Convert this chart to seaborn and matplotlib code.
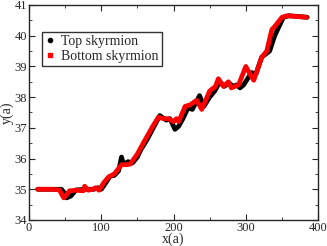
import matplotlib
matplotlib.use("Agg")
import matplotlib.pyplot as plt
from matplotlib.lines import Line2D
from matplotlib.ticker import MultipleLocator
import seaborn as sns
import pandas as pd

# values
top_x = [12, 30, 45, 50, 52, 58, 65, 80, 90, 95, 100, 106, 112, 118, 124, 128, 131, 137, 143,
         150, 155, 163, 172, 181, 190, 195, 202, 207, 213, 220, 226, 236, 242, 250, 257, 264,
         270, 277, 283, 287, 292, 297, 308, 314, 322, 333, 340, 352, 360, 385]
top_y = [35.0, 35.0, 35.0, 34.85, 34.72, 34.78, 34.98, 35.0, 35.0, 35.05, 35.0, 35.2, 35.42,
         35.45, 35.6, 36.05, 35.8, 35.9, 35.85, 36.05, 36.3, 36.6, 37.0, 37.4, 37.25, 37.3,
         36.95, 37.05, 37.3, 37.65, 37.6, 38.05, 37.7, 38.0, 38.2, 38.5, 38.35, 38.45, 38.35,
         38.4, 38.3, 38.4, 38.8, 38.75, 39.3, 39.5, 40.0, 40.6, 40.65, 40.6]

bot_x = [12, 30, 42, 48, 53, 56, 65, 75, 77, 82, 88, 92, 97, 103, 110, 118, 128, 135, 140,
         150, 158, 170, 179, 186, 193, 200, 204, 207, 216, 223, 232, 239, 250, 258, 262, 269,
         276, 280, 290, 300, 307, 311, 322, 329, 336, 340, 350, 357, 384]
bot_y = [35.0, 35.0, 34.98, 34.72, 34.85, 34.95, 34.97, 34.95, 35.1, 34.97, 35.0, 35.05, 34.97,
         35.2, 35.4, 35.5, 35.8, 35.8, 35.82, 36.15, 36.5, 37.0, 37.35, 37.3, 37.3, 37.2, 37.3,
         37.2, 37.7, 37.75, 37.9, 37.6, 38.2, 38.35, 38.6, 38.35, 38.5, 38.3, 38.4, 39.0, 38.7,
         38.55, 39.3, 39.5, 40.2, 40.3, 40.6, 40.65, 40.6]

labels = ["Top skyrmion", "Bottom skyrmion"]
colors = ["black", "red"]

df = pd.concat([
    pd.DataFrame({"x": top_x, "y": top_y, "series": labels[0]}),
    pd.DataFrame({"x": bot_x, "y": bot_y, "series": labels[1]}),
])

sns.set_style("ticks")
plt.rcParams["font.family"] = ["Liberation Serif", "DejaVu Serif"]

fig = plt.figure(figsize=(3.27, 2.46), dpi=100)
ax = fig.add_axes([0.0887, 0.1057, 0.884, 0.874])
sns.lineplot(data=df, x="x", y="y", hue="series", palette=colors, sort=False,
             linewidth=3.4, legend=False, ax=ax)

ax.set_xlim(0, 400)
ax.set_ylim(34, 41)
ax.xaxis.set_major_locator(MultipleLocator(100))
ax.xaxis.set_minor_locator(MultipleLocator(50))
ax.yaxis.set_major_locator(MultipleLocator(1))
ax.yaxis.set_minor_locator(MultipleLocator(0.5))
ax.tick_params(which="both", direction="in", top=True, right=True, labelsize=9, pad=1.5)
ax.tick_params(which="major", length=4)
ax.tick_params(which="minor", length=2)
for s in ax.spines.values():
    s.set_linewidth(1.0)
ax.set_xlabel("x(a)", fontsize=10, labelpad=-1)
ax.set_ylabel("y(a)", fontsize=10, labelpad=0)

handles = [Line2D([], [], linestyle="none", marker="o", color="black", markersize=3),
           Line2D([], [], linestyle="none", marker="s", color="red", markersize=2.5)]
leg = ax.legend(handles, labels, loc="upper left", bbox_to_anchor=(0.045, 0.875),
                fontsize=10, frameon=True, fancybox=False, edgecolor="black",
                handlelength=0.6, handletextpad=0.5, borderpad=0.25, labelspacing=0.1,
                borderaxespad=0)
leg.get_frame().set_linewidth(1.0)

fig.savefig("out.png", dpi=100)
